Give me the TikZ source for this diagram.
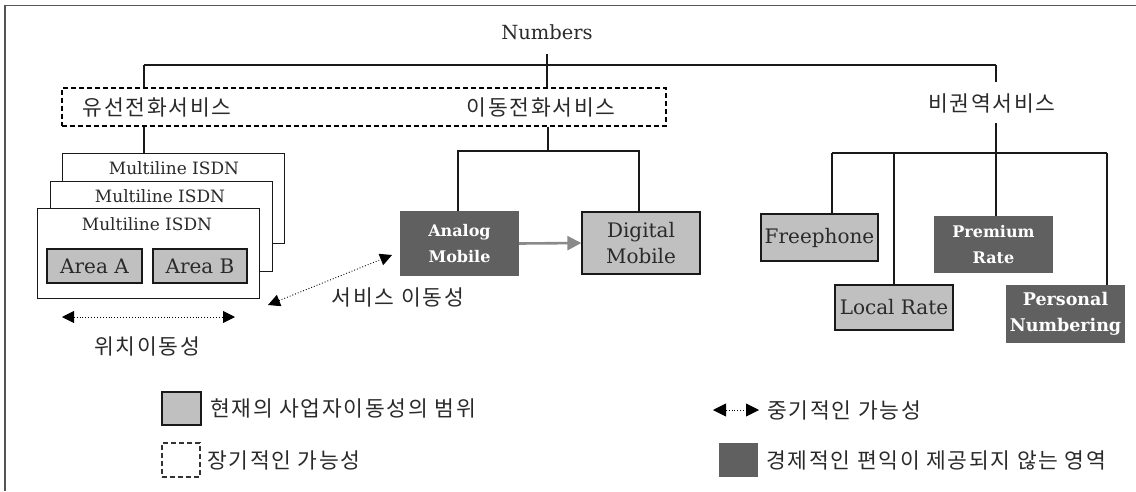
\documentclass[tikz,border=0pt]{standalone}
\usepackage{fontspec}
\setmainfont{DejaVu Serif}
\newfontfamily\kr[LetterSpace=8]{Noto Sans CJK KR}
\usetikzlibrary{arrows.meta}
\definecolor{lg}{HTML}{C0C0C0}
\definecolor{dg}{HTML}{606060}
\definecolor{fr}{HTML}{555555}
\definecolor{ga}{HTML}{8A8A8A}
\definecolor{tx}{HTML}{2A2A2A}
\begin{document}
\begin{tikzpicture}[x=1pt,y=-1pt,
  ln/.style={line width=1.1pt, draw=black!90},
  lat/.style={font=\fontsize{19.5}{22}\selectfont, text=tx, inner sep=0pt},
  krt/.style={font=\kr\fontsize{21.5}{24}\selectfont, text=tx, inner sep=0pt},
  lightbox/.style={draw=black!90, line width=1.3pt, fill=lg, inner sep=0pt, align=center, text=tx,
     font=\fontsize{20}{26}\selectfont},
  darkbox/.style={fill=dg, text=white, inner sep=0pt, align=center,
     font=\fontsize{16}{26}\selectfont\bfseries},
  sheet/.style={draw=black!90, line width=1pt, fill=white, minimum width=222pt, minimum height=90pt, inner sep=0pt},
  mls/.style={font=\fontsize{17}{20}\selectfont, text=tx, inner sep=0pt},
  dashbox/.style={draw=black, line width=1.3pt, dash pattern=on 5pt off 3pt, inner sep=0pt},
  darr/.style={dotted, line width=0.9pt, {Triangle[length=12pt,width=12pt]}-{Triangle[length=12pt,width=12pt]}},
]
\useasboundingbox (0,0) rectangle (1136,491);
% frame
\draw[line width=1.8pt, fr] (5,491) -- (5,5.5) -- (1136,5.5);

% top
\node[lat] (num) at (547,32) {Numbers};
\node[dashbox, minimum width=604pt, minimum height=38pt] (dash) at (364,107) {};
\node[krt] (wired) at (157,107) {유선전화서비스};
\node[krt] (mobile) at (541,107) {이동전화서비스};
\node[krt] (nonreg) at (992,103) {비권역서비스};

\coordinate (nt) at (547,54);
\coordinate (busL) at (144,65);
\coordinate (busR) at (996,65);
\coordinate (busRb) at (996,82);
\draw[ln] (nt) -- (nt |- dash.north);
\draw[ln] (busL) -- (busR);
\draw[ln] (busL) -- (busL |- dash.north);
\draw[ln] (busR) -- (busRb);

% Multiline stack
\node[sheet] (s3) at (173.5,198) {};
\node[sheet] (s2) at (161.5,226) {};
\node[sheet] (s1) at (148,253) {};
\node[mls] (t3) at (174,168) {Multiline ISDN};
\node[mls] (t2) at (160,196) {Multiline ISDN};
\node[mls] (t1) at (147,224) {Multiline ISDN};
\node[lightbox, minimum width=95pt, minimum height=34pt] (areaA) at (94.5,266) {Area A};
\node[lightbox, minimum width=94pt, minimum height=34pt] (areaB) at (200,266) {Area B};
\draw[ln] (busL |- dash.south) -- (busL |- s3.north);

% mobile
\node[darkbox, minimum width=119pt, minimum height=65pt] (analog) at (459.5,243.5) {Analog\\Mobile};
\node[lightbox, minimum width=118pt, minimum height=62pt] (digital) at (641,243) {Digital\\Mobile};
\coordinate (mb) at (548,151);
\coordinate (ma) at (458,151);
\coordinate (md) at (639,151);
\draw[ln] (mb |- dash.south) -- (mb);
\draw[ln] (ma |- analog.north) -- (ma) -- (md) -- (md |- digital.north);
\draw[line width=2.6pt, ga, -{Triangle[length=14pt,width=14pt]}] (analog.east) -- (digital.west);

% non-regional
\node[lightbox, minimum width=117pt, minimum height=47pt] (free) at (819.5,237.5) {Freephone};
\node[lightbox, minimum width=118pt, minimum height=45pt] (local) at (894,307.5) {Local Rate};
\node[darkbox, minimum width=119pt, minimum height=57pt] (prem) at (993.5,244.5) {Premium\\Rate};
\node[darkbox, minimum width=119pt, minimum height=58pt, font=\fontsize{17.5}{26}\selectfont\bfseries] (pers) at (1065.5,314) {Personal\\Numbering};
\coordinate (nbt) at (996,123);
\coordinate (nb) at (996,153);
\coordinate (nb1) at (832,153);
\coordinate (nb2) at (894,153);
\coordinate (nb4) at (1107,153);
\draw[ln] (nbt) -- (nb);
\draw[ln] (nb1) -- (nb4);
\draw[ln] (nb1) -- (nb1 |- free.north);
\draw[ln] (nb2) -- (local.north);
\draw[ln] (nb) -- (nb |- prem.north);
\draw[ln] (nb4) -- (nb4 |- pers.north);

% mobility arrows
\coordinate (la) at (62,317);
\coordinate (lb) at (235,317);
\draw[darr] (la) -- (lb);
\node[krt] (locmob) at (147,346) {위치이동성};
\coordinate (sa) at (268,305);
\coordinate (sb) at (392,255);
\draw[darr] (sa) -- (sb);
\node[krt] (svcmob) at (398,297) {서비스 이동성};

% legend
\node[lightbox, minimum width=39pt, minimum height=33pt] (lg1) at (181.5,408.5) {};
\node[krt, anchor=west] (lt1) at (210,408) {현재의 사업자이동성의 범위};
\node[dashbox, draw=black!80, minimum width=38pt, minimum height=34pt] (lg2) at (181,460) {};
\node[krt, anchor=west] (lt2) at (207,460) {장기적인 가능성};
\coordinate (l3a) at (713,410);
\coordinate (l3b) at (759,410);
\draw[dotted, line width=0.9pt, {Triangle[length=13pt,width=13pt]}-{Triangle[length=13pt,width=13pt]}] (l3a) -- (l3b);
\node[krt, anchor=west] (lt3) at (767,410) {중기적인 가능성};
\node[darkbox, minimum width=39pt, minimum height=34pt] (lg4) at (738.5,460) {};
\node[krt, anchor=west] (lt4) at (766,460) {경제적인 편익이 제공되지 않는 영역};
\end{tikzpicture}
\end{document}
